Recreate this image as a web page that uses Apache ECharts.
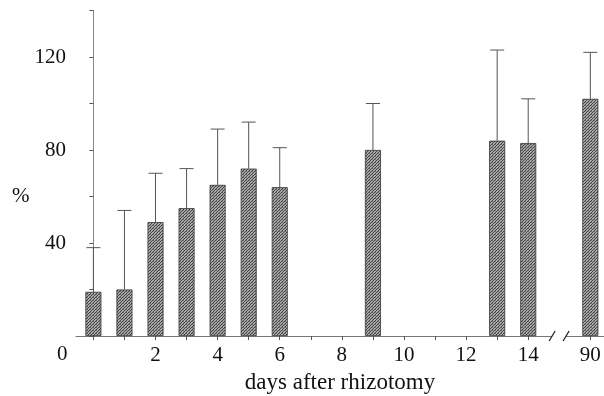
<!DOCTYPE html>
<html>
<head>
    <meta charset="UTF-8">
    <script type="text/javascript" src="https://cdn.jsdelivr.net/npm/echarts@6/dist/echarts.min.js"></script>
    <style>
        html, body { margin: 0; padding: 0; background: #fff; }
    </style>
</head>
<body>
    <div style="height: 396px;width: 604px" id="myDiv"></div>
    <script type="text/javascript">
        // days after rhizotomy, mean % and top of error bar
        var days = [0, 1, 2, 3, 4, 5, 6, 9, 13, 14, 90];
        var means = [19, 20, 49, 55, 65, 72, 64, 80, 84, 83, 102];
        var upper = [38, 54, 70, 72, 89, 92, 81, 100, 123, 102, 122];
        var xTickLabels = [2, 4, 6, 8, 10, 12, 14, 90];
        var yTickLabels = [40, 80, 120];

        // the axis is broken after 14: day 90 sits where 16 would be
        function toPos(d) { return d > 15 ? 16 : d; }
        function fromPos(p) { return p === 16 ? 90 : p; }

        var serif = '"Liberation Serif", "DejaVu Serif", serif';

        // hatched fill for the bars
        var pat = document.createElement('canvas');
        pat.width = 3; pat.height = 3;
        var pc = pat.getContext('2d');
        pc.fillStyle = '#a8a8a8';
        pc.fillRect(0, 0, 3, 3);
        pc.fillStyle = '#444';
        pc.fillRect(0, 2, 1, 1);
        pc.fillRect(1, 1, 1, 1);
        pc.fillRect(2, 0, 1, 1);
        pc.fillStyle = '#777';
        pc.fillRect(0, 0, 1, 1);

        var barData = [], errData = [];
        for (var i = 0; i < days.length; i++) {
            barData.push([toPos(days[i]), means[i]]);
            errData.push([toPos(days[i]), means[i], upper[i]]);
        }
        var tickPos = [];
        for (var t = 0; t <= 14; t++) tickPos.push(t);
        tickPos.push(16);
        var labelPos = xTickLabels.map(toPos);

        var chart = echarts.init(document.getElementById("myDiv"));
        var option = {
            animation: false,
            grid: { left: 76, right: 0, top: 10.5, bottom: 60, containLabel: false, outerBoundsMode: 'none' },
            xAxis: {
                type: 'value',
                min: -0.56,
                max: 16.44,
                name: 'days after rhizotomy',
                nameLocation: 'middle',
                nameGap: 35,
                nameTextStyle: { fontFamily: serif, fontSize: 23, color: '#111' },
                axisLine: { lineStyle: { color: '#777', width: 1 } },
                axisTick: { customValues: tickPos, length: 4, lineStyle: { color: '#555' } },
                axisLabel: {
                    customValues: labelPos,
                    margin: 9,
                    fontFamily: serif, fontSize: 21, color: '#111',
                    formatter: function (v) { return String(fromPos(v)); }
                },
                splitLine: { show: false }
            },
            yAxis: {
                type: 'value',
                min: 0,
                max: 140,
                interval: 20,
                axisLine: { show: true, lineStyle: { color: '#888', width: 1 } },
                axisTick: { show: true, length: 4, lineStyle: { color: '#555' } },
                axisLabel: {
                    margin: 10,
                    fontFamily: serif, fontSize: 21, color: '#111',
                    formatter: function (v) { return yTickLabels.indexOf(v) >= 0 ? String(v) : ''; }
                },
                splitLine: { show: false }
            },
            series: [
                {
                    type: 'bar',
                    barWidth: 16,
                    data: barData,
                    itemStyle: {
                        color: { image: pat, repeat: 'repeat' },
                        borderColor: '#333',
                        borderWidth: 0.8
                    },
                    z: 3
                },
                {
                    type: 'custom',
                    data: errData,
                    renderItem: function (params, api) {
                        var base = api.coord([api.value(0), api.value(1)]);
                        var top = api.coord([api.value(0), api.value(2)]);
                        var style = { stroke: '#555', lineWidth: 1 };
                        return {
                            type: 'group',
                            children: [
                                { type: 'line', shape: { x1: base[0], y1: base[1], x2: top[0], y2: top[1] }, style: style },
                                { type: 'line', shape: { x1: top[0] - 7, y1: top[1], x2: top[0] + 7, y2: top[1] }, style: style }
                            ]
                        };
                    },
                    z: 2
                }
            ]
        };
        chart.setOption(option);

        // origin label and the break marks on the x axis
        var b0 = chart.convertToPixel({ gridIndex: 0 }, [14.77, 0]);
        var b1 = chart.convertToPixel({ gridIndex: 0 }, [15.22, 0]);
        chart.setOption({
            graphic: [
                { type: 'text', left: 57, top: 344, style: { text: '0', font: '21px ' + serif, fill: '#111' } },
                { type: 'text', left: 12, top: 186, style: { text: '%', font: '21px ' + serif, fill: '#111' } },
                { type: 'rect', shape: { x: b0[0], y: b0[1] - 3, width: b1[0] - b0[0], height: 6 }, style: { fill: '#fff' }, z: 10 },
                { type: 'line', shape: { x1: b0[0] - 3, y1: b0[1] + 5, x2: b0[0] + 3, y2: b0[1] - 5 }, style: { stroke: '#222', lineWidth: 1.3 }, z: 11 },
                { type: 'line', shape: { x1: b1[0] - 3, y1: b1[1] + 5, x2: b1[0] + 3, y2: b1[1] - 5 }, style: { stroke: '#222', lineWidth: 1.3 }, z: 11 }
            ]
        });
    </script>
</body>
</html>
